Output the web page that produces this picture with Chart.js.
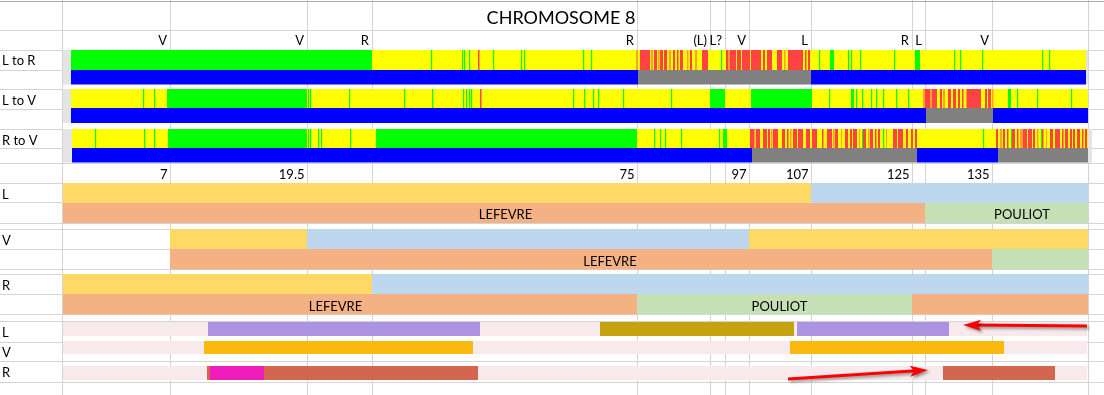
<!DOCTYPE html>
<html>
<head>
<meta charset="utf-8">
<script src="https://cdn.jsdelivr.net/npm/chart.js@4.4.1/dist/chart.umd.min.js"></script>
<style>
  html, body { margin: 0; padding: 0; background: #fff; }
  canvas { display: block; }
</style>
</head>
<body>
<canvas id="cromosoma" width="1104" height="395"></canvas>
<script>
// Posiciones en "unidades de hoja" (columna de la planilla), 0..1104

// Marcadores arriba y posiciones (Mb) abajo
const marcadores = ["V", "V", "R", "R", "(L)", "L?", "V", "L", "R", "L", "V"];
const bordesMarcadores = [170, 307, 372, 637, 710, 725, 749, 811, 912, 925, 992];
const posicionesMb = ["7", "19.5", "75", "97", "107", "125", "135"];
const bordesMb = [170, 307, 637, 749, 811, 912, 992];

// Bordes de columnas y filas de la hoja
const bordesColumnas = [63, 170, 307, 372, 637, 710, 725, 749, 811, 912, 925, 992, 1088];
const bordesFilas = [1.5, 30, 50, 70, 89, 109, 129, 148, 163, 183, 203, 223, 229, 249, 269, 274, 294, 314, 321, 342, 361, 382];

const filas = ["L to R", "L to V", "R to V", "L", "V", "R", "L", "V", "R"];

// --- Comparaciones (G = igual, Y = parcial, R/O = distinto, B/N = estado)
const lrBloques = [[63, 71, "S"], [71, 372, "G"], [372, 1086, "Y"], [830, 834, "G"], [915, 920, "G"], [1086, 1088, "S"]];
const lrVerdes = [431, 462, 464, 469, 493, 521, 524, 583, 591, 721, 819, 848, 851, 860, 894, 954, 960, 982, 1042, 1049];
const lrRojos = [[478, 479.5, "R"], [636, 638, "O"], [640, 650, "R"], [651, 653, "O"], [654, 657, "R"], [658, 659.5, "O"],
  [660, 663, "R"], [664, 667, "R"], [669, 671, "O"], [673, 675, "R"], [677, 678.5, "R"], [680, 683, "R"], [687, 688.5, "O"],
  [690, 692, "R"], [695, 697, "O"], [702, 708, "R"], [726, 728, "R"], [728, 730, "O"], [730, 736, "R"], [737, 741, "R"],
  [742, 750, "R"], [751, 761, "R"], [763, 765, "R"], [767, 772, "R"], [777, 782, "R"], [784, 785.5, "O"], [788, 803, "R"],
  [805, 806.5, "R"], [808, 810, "R"]];
const lrEstado = [[63, 71, "S"], [71, 638, "B"], [638, 811, "N"], [811, 1086, "B"], [1086, 1088, "S"]];

const lvBloques = [[63, 71, "S"], [71, 1088, "Y"], [167, 307, "G"], [710, 725, "G"], [751, 812, "G"], [851, 854, "G"], [1008, 1011, "G"]];
const lvVerdes = [143, 154, 308, 310, 349, 404, 432, 463, 466, 469, 471, 573, 584, 593, 598, 623, 671, 829, 856, 862, 871,
  876, 883, 896, 908, 1017, 1037, 1071];
const lvRojos = [[480, 481.5, "R"], [923, 925, "O"], [925, 930, "R"], [930, 932, "O"], [932, 937, "R"], [940, 942, "R"],
  [943, 945, "O"], [948, 951, "R"], [953, 956, "R"], [958, 960, "R"], [962, 963.5, "R"], [966, 967, "O"], [967, 981, "R"],
  [985, 987, "R"], [988, 991, "R"], [992, 993.5, "O"]];
const lvEstado = [[63, 71, "S"], [71, 926, "B"], [926, 993, "N"], [993, 1088, "B"]];

const rvBloques = [[63, 72, "S"], [72, 1088, "Y"], [168, 307, "G"], [376, 637, "G"], [723, 727, "G"], [1088, 1092, "S"]];
const rvVerdes = [95, 144, 154, 308, 310, 318, 321, 350, 654, 660, 665, 681, 719, 862, 883, 894, 983, 1001, 1011, 1041];
const rvRojos = [[750, 754, "R"], [754, 755.5, "O"], [756, 760, "R"], [763, 767, "R"], [768, 770, "R"], [771, 772.5, "O"],
  [773, 778, "R"], [782, 785, "R"], [787, 788.5, "R"], [790, 791.5, "O"], [793, 797, "R"], [798, 803, "R"], [806, 810, "R"],
  [812, 817, "R"], [822, 823.5, "R"], [827, 832, "R"], [833, 834.5, "O"], [835, 838, "R"], [841, 842, "O"], [845, 848, "R"],
  [850, 852, "R"], [853, 857, "R"], [859, 860, "O"], [863, 866, "R"], [868, 869.5, "O"], [870, 873, "R"], [875, 876.5, "R"],
  [878, 880, "R"], [886, 887, "O"], [893, 897, "R"], [898, 903, "R"], [906, 908, "R"], [911, 913, "R"], [915, 917, "R"],
  [996, 998, "R"], [1000, 1002, "O"], [1003, 1005, "R"], [1007, 1008.5, "R"], [1012, 1015, "R"], [1017, 1018.5, "R"],
  [1020, 1023, "O"], [1023, 1027, "R"], [1028, 1032, "R"], [1033, 1035, "R"], [1037, 1038.5, "O"], [1042, 1043.5, "R"],
  [1046, 1047, "O"], [1050, 1053, "R"], [1055, 1060, "R"], [1062, 1063.5, "R"], [1065, 1068, "R"], [1070, 1072, "R"],
  [1073, 1075, "R"], [1077, 1080, "R"], [1082, 1083.5, "R"], [1085, 1087, "R"]];
const rvEstado = [[63, 72, "S"], [72, 752, "B"], [752, 917, "N"], [917, 998, "B"], [998, 1088, "N"], [1088, 1092, "S"]];

// --- Haplotipos y donantes por individuo
const lHaplo = [[63, 811, "Y"], [811, 1088, "B"]];
const lDonante = [[63, 925, "S"], [925, 1088, "G"]];
const vHaplo = [[170, 307, "Y"], [307, 749, "B"], [749, 1088, "Y"]];
const vDonante = [[170, 992, "S"], [992, 1088, "G"]];
const rHaplo = [[63, 372, "Y"], [372, 1088, "B"]];
const rDonante = [[63, 637, "S"], [637, 912, "G"], [912, 1088, "S"]];
const donantes = [["lDonante", 505.5, "LEFEVRE"], ["lDonante", 1022, "POULIOT"], ["vDonante", 610, "LEFEVRE"],
  ["rDonante", 335.5, "LEFEVRE"], ["rDonante", 779.5, "POULIOT"]];

// --- Segmentos marcados abajo
const lSegmentos = [[63, 1087, "P"], [208, 480, "Pu"], [600, 794, "Ol"], [797, 949, "Pu"]];
const vSegmentos = [[63, 1087, "P"], [204, 473, "Or"], [790, 1004, "Or"]];
const rSegmentos = [[63, 1087, "P"], [207, 478, "Br"], [210, 264, "Mg"], [943, 1055, "Br"]];
const flechas = [[1087, 326, 963, 325], [788, 379, 928, 370]];

// Colores
const colPista = { G: "#00FF00", Y: "#FFFF00", R: "#FF4343", O: "#FF9F2F", B: "#0000FF", N: "#808080", S: "#E4E4E4" };
const colHoja = { Y: "#FFD966", B: "#BDD7EE", S: "#F4B183", G: "#C5E0B4" };
const colSeg = { P: "#F8EAEC", Pu: "#AC92E0", Ol: "#C4A30F", Or: "#F9B90D", Mg: "#EE1DBC", Br: "#D4664F" };

// Ubicacion vertical de cada banda (arriba, abajo)
const bandas = {
  lrArriba: [50, 70], lrAbajo: [70, 84.5], lvArriba: [89, 108], lvAbajo: [108, 123], rvArriba: [129, 148], rvAbajo: [148, 162.5],
  lHaplo: [183, 203], lDonante: [203, 223], vHaplo: [229, 249], vDonante: [249, 269.5], rHaplo: [274, 294], rDonante: [294, 314.5],
  lSeg: [322, 336], vSeg: [341, 354], rSeg: [366, 380]
};

const lineas = (pos) => pos.map((p) => [p, p + 1.2, "G"]);

function banda(nombre, segmentos, paleta) {
  const [y0, y1] = bandas[nombre];
  return {
    label: nombre,
    data: segmentos.map((s) => ({ x: [s[0], s[1]], y: (y0 + y1) / 2 })),
    backgroundColor: segmentos.map((s) => paleta[s[2]]),
    barThickness: y1 - y0,
    borderWidth: 0,
    inflateAmount: 0,
    grouped: false,
  };
}

const datasets = [
  banda("lrArriba", [...lrBloques, ...lineas(lrVerdes), ...lrRojos], colPista),
  banda("lrAbajo", lrEstado, colPista),
  banda("lvArriba", [...lvBloques, ...lineas(lvVerdes), ...lvRojos], colPista),
  banda("lvAbajo", lvEstado, colPista),
  banda("rvArriba", [...rvBloques, ...lineas(rvVerdes), ...rvRojos], colPista),
  banda("rvAbajo", rvEstado, colPista),
  banda("lHaplo", lHaplo, colHoja),
  banda("lDonante", lDonante, colHoja),
  banda("vHaplo", vHaplo, colHoja),
  banda("vDonante", vDonante, colHoja),
  banda("rHaplo", rHaplo, colHoja),
  banda("rDonante", rDonante, colHoja),
  banda("lSeg", lSegmentos, colSeg),
  banda("vSeg", vSegmentos, colSeg),
  banda("rSeg", rSegmentos, colSeg),
];

const baseFilas = [65, 105, 145, 199, 245, 290, 337, 357, 377];

const textos = {
  id: "textos",
  afterDatasetsDraw(chart) {
    const { ctx, scales: { x, y } } = chart;
    ctx.save();
    ctx.fillStyle = "#000";
    ctx.textBaseline = "alphabetic";

    ctx.font = "18px Lato";
    ctx.textAlign = "center";
    ctx.fillText("CHROMOSOME 8", x.getPixelForValue(561), y.getPixelForValue(24));

    ctx.font = "13px Lato";
    ctx.textAlign = "right";
    marcadores.forEach((m, i) => ctx.fillText(m, x.getPixelForValue(bordesMarcadores[i]) - 3, y.getPixelForValue(45)));
    posicionesMb.forEach((m, i) => ctx.fillText(m, x.getPixelForValue(bordesMb[i]) - 2.5, y.getPixelForValue(179)));

    ctx.textAlign = "left";
    filas.forEach((f, i) => ctx.fillText(f, x.getPixelForValue(2), y.getPixelForValue(baseFilas[i])));

    ctx.textAlign = "center";
    donantes.forEach(([b, cx, t]) => ctx.fillText(t, x.getPixelForValue(cx), y.getPixelForValue(bandas[b][1] - 4)));

    // flechas rojas
    ctx.strokeStyle = "#FF0000";
    ctx.fillStyle = "#FF0000";
    ctx.lineWidth = 3;
    ctx.shadowColor = "rgba(0,0,0,0.4)";
    ctx.shadowBlur = 3;
    ctx.shadowOffsetX = 2;
    ctx.shadowOffsetY = 2;
    flechas.forEach(([a, b, c, d]) => {
      const x0 = x.getPixelForValue(a), y0 = y.getPixelForValue(b);
      const x1 = x.getPixelForValue(c), y1 = y.getPixelForValue(d);
      const ang = Math.atan2(y1 - y0, x1 - x0);
      ctx.beginPath();
      ctx.moveTo(x0, y0);
      ctx.lineTo(x1 - Math.cos(ang) * 12, y1 - Math.sin(ang) * 12);
      ctx.stroke();
      ctx.save();
      ctx.translate(x1, y1);
      ctx.rotate(ang);
      ctx.beginPath();
      ctx.moveTo(0, 0);
      ctx.lineTo(-18, -5.5);
      ctx.lineTo(-14, 0);
      ctx.lineTo(-18, 5.5);
      ctx.closePath();
      ctx.fill();
      ctx.restore();
    });
    ctx.restore();
  },
};

new Chart(document.getElementById("cromosoma"), {
  type: "bar",
  data: { datasets },
  options: {
    indexAxis: "y",
    responsive: false,
    devicePixelRatio: 1,
    animation: false,
    events: [],
    layout: { padding: 0 },
    plugins: { legend: { display: false }, tooltip: { enabled: false } },
    scales: {
      x: {
        type: "linear", min: 0, max: 1104,
        ticks: { display: false },
        border: { display: false },
        grid: { color: "#D4D4D4", drawTicks: false },
        afterBuildTicks: (s) => { s.ticks = bordesColumnas.map((v) => ({ value: v })); },
      },
      y: {
        type: "linear", min: 0, max: 395, reverse: true, offset: false,
        ticks: { display: false },
        border: { display: false },
        grid: {
          offset: false, drawTicks: false,
          color: (c) => (c.tick && c.tick.value === 1.5 ? "#ABABAB" : "#D4D4D4"),
        },
        afterBuildTicks: (s) => { s.ticks = bordesFilas.map((v) => ({ value: v })); },
      },
    },
  },
  plugins: [textos],
});
</script>
</body>
</html>
